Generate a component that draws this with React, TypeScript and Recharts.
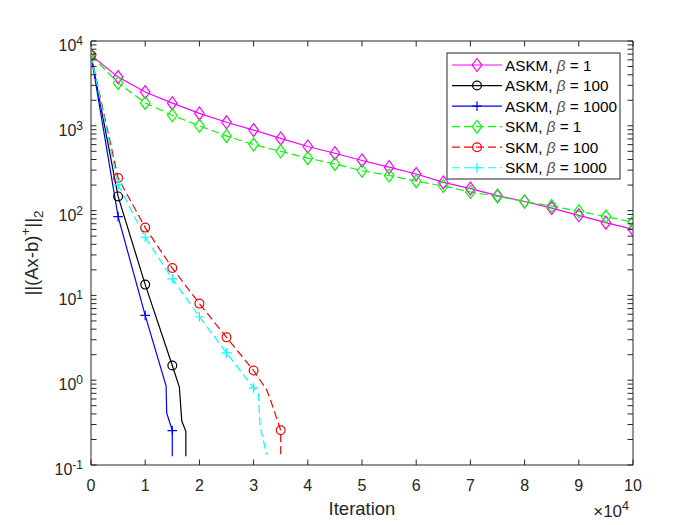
import { Label, Line, LineChart, XAxis, YAxis } from 'recharts';

const FONT = '"Liberation Sans", Arial, Helvetica, sans-serif';
const INK = '#262626';

// axis ticks (iterations, residual decades)
const xTicks = [0, 10000, 20000, 30000, 40000, 50000, 60000, 70000, 80000, 90000, 100000];
const yDecades = [0.1, 1, 10, 100, 1000, 10000];
const yMinorSteps = [2, 3, 4, 5, 6, 7, 8, 9];

// slow runs, logged every 5000 iterations
const checkpoints = [
  0, 5000, 10000, 15000, 20000, 25000, 30000, 35000, 40000, 45000, 50000, 55000, 60000, 65000,
  70000, 75000, 80000, 85000, 90000, 95000, 100000,
];
const askmBeta1 = [
  6800, 3750, 2500, 1850, 1400, 1100, 890, 710, 570, 475, 390, 325, 270, 215, 182, 150, 128, 107,
  88, 72, 60,
];
const skmBeta1 = [
  6800, 3200, 1860, 1330, 1000, 760, 600, 500, 415, 355, 295, 260, 222, 195, 166, 147, 128, 113,
  98, 85, 73,
];

// fast runs, stopped once the residual fell below tolerance
const askmBeta100Iter = [0, 5000, 10000, 15000, 16300, 16750, 17500, 17500];
const askmBeta100Res = [6800, 147, 13.4, 1.49, 0.83, 0.33, 0.25, 0.127];
const askmBeta1000Iter = [0, 5000, 10000, 13850, 13970, 15000, 15000];
const askmBeta1000Res = [6800, 85, 5.8, 0.86, 0.41, 0.255, 0.127];
const skmBeta100Iter = [0, 5000, 10000, 15000, 20000, 25000, 30000, 32400, 33100, 35000, 35000];
const skmBeta100Res = [6800, 242, 63, 21, 8.0, 3.2, 1.3, 0.77, 0.59, 0.257, 0.127];
const skmBeta1000Iter = [0, 5000, 10000, 15000, 20000, 25000, 30000, 30900, 31200, 32400];
const skmBeta1000Res = [6800, 201, 48.5, 15.7, 5.6, 2.1, 0.81, 0.68, 0.286, 0.133];

type Row = { it: number; r: number; mark: boolean };
type Shape = 'diamond' | 'circle' | 'plus';

const toRows = (its: number[], res: number[]): Row[] =>
  its.map((it, i) => ({ it, r: res[i], mark: it % 5000 === 0 && (i === 0 || its[i - 1] !== it) }));

const yTicks = [
  ...yDecades,
  ...yDecades.slice(0, -1).flatMap((d) => yMinorSteps.map((m) => d * m)),
];
const isDecade = (v: number) => Math.abs(Math.log10(v) - Math.round(Math.log10(v))) < 1e-9;

type SeriesDef = {
  name: string;
  beta: string;
  rows: Row[];
  color: string;
  shape: Shape;
  dashed: boolean;
};

const series: SeriesDef[] = [
  { name: 'ASKM', beta: '1', rows: toRows(checkpoints, askmBeta1), color: '#ff00ff', shape: 'diamond', dashed: false },
  { name: 'ASKM', beta: '100', rows: toRows(askmBeta100Iter, askmBeta100Res), color: '#000000', shape: 'circle', dashed: false },
  { name: 'ASKM', beta: '1000', rows: toRows(askmBeta1000Iter, askmBeta1000Res), color: '#0000ff', shape: 'plus', dashed: false },
  { name: 'SKM', beta: '1', rows: toRows(checkpoints, skmBeta1), color: '#00ff00', shape: 'diamond', dashed: true },
  { name: 'SKM', beta: '100', rows: toRows(skmBeta100Iter, skmBeta100Res), color: '#ff0000', shape: 'circle', dashed: true },
  { name: 'SKM', beta: '1000', rows: toRows(skmBeta1000Iter, skmBeta1000Res), color: '#00ffff', shape: 'plus', dashed: true },
];

const LINE_W = 1.2;
const DASH = '8 4';
const TICK_LEN = 5.5;
const TICK_FONT = 16;
const SUP_FONT = 12;
const TITLE_FONT = 18.5;

function Marker({ shape, x, y, color }: { shape: Shape; x: number; y: number; color: string }) {
  if (shape === 'diamond') {
    return (
      <path
        d={`M${x} ${y - 6.5}L${x + 4.8} ${y}L${x} ${y + 6.5}L${x - 4.8} ${y}Z`}
        fill="none"
        stroke={color}
        strokeWidth={LINE_W}
      />
    );
  }
  if (shape === 'circle') {
    return <circle cx={x} cy={y} r={4.4} fill="none" stroke={color} strokeWidth={LINE_W} />;
  }
  return (
    <path
      d={`M${x - 4.8} ${y}H${x + 4.8}M${x} ${y - 4.8}V${y + 4.8}`}
      fill="none"
      stroke={color}
      strokeWidth={LINE_W}
    />
  );
}

const dotFor = (shape: Shape, color: string) => (props: any) => {
  const { cx, cy, index, payload } = props;
  return (
    <g key={`m-${index}`}>
      {payload?.mark ? <Marker shape={shape} x={cx} y={cy} color={color} /> : null}
    </g>
  );
};

function XTick(props: any) {
  const { x, y, payload, side } = props;
  const inward = side === 'top' ? 1 : -1;
  return (
    <g>
      <line x1={x} y1={y} x2={x} y2={y + inward * TICK_LEN} stroke={INK} strokeWidth={1} />
      {side === 'bottom' ? (
        <text x={x} y={y + 26} textAnchor="middle" fill={INK} fontSize={TICK_FONT} fontFamily={FONT}>
          {payload.value / 10000}
        </text>
      ) : null}
    </g>
  );
}

function YTick(props: any) {
  const { x, y, payload, side } = props;
  const inward = side === 'left' ? 1 : -1;
  const major = isDecade(payload.value);
  const exp = Math.round(Math.log10(payload.value));
  return (
    <g>
      <line x1={x} y1={y} x2={x + inward * TICK_LEN} y2={y} stroke={INK} strokeWidth={1} />
      {side === 'left' && major ? (
        <text x={x - 8} y={y + 10} textAnchor="end" fill={INK} fontSize={TICK_FONT} fontFamily={FONT}>
          10
          <tspan dy={-6} fontSize={SUP_FONT}>
            {exp}
          </tspan>
        </text>
      ) : null}
    </g>
  );
}

function YTitle(props: any) {
  const vb = props.viewBox ?? { x: 31, y: 41, width: 60, height: 424 };
  const cx = 38;
  const cy = vb.y + vb.height / 2;
  return (
    <text
      transform={`translate(${cx},${cy}) rotate(-90)`}
      textAnchor="middle"
      fill={INK}
      fontSize={TITLE_FONT}
      fontFamily={FONT}
    >
      ||(Ax-b)
      <tspan dy={-8} fontSize={13.5}>
        +
      </tspan>
      <tspan dy={8}>||</tspan>
      <tspan dy={5} fontSize={13.5}>
        2
      </tspan>
    </text>
  );
}

function XTitle(props: any) {
  const vb = props.viewBox ?? { x: 91, y: 465, width: 542, height: 40 };
  return (
    <g>
      <text
        x={vb.x + vb.width / 2}
        y={515}
        textAnchor="middle"
        fill={INK}
        fontSize={TITLE_FONT}
        fontFamily={FONT}
      >
        Iteration
      </text>
      <text x={629} y={517} textAnchor="end" fill={INK} fontSize={17} fontFamily={FONT}>
        ×10
        <tspan dy={-7} fontSize={12.5}>
          4
        </tspan>
      </text>
    </g>
  );
}

function LegendBox() {
  const left = 447;
  const top = 53;
  const rowY = (i: number) => 65 + i * 20.55;
  return (
    <svg
      width={700}
      height={525}
      style={{ position: 'absolute', left: 0, top: 0, pointerEvents: 'none' }}
    >
      <rect x={left} y={top} width={173} height={126} fill="#fff" stroke={INK} strokeWidth={1} />
      {series.map((s, i) => {
        const y = rowY(i);
        return (
          <g key={`${s.name}-${s.beta}`}>
            <line
              x1={452}
              x2={502}
              y1={y}
              y2={y}
              stroke={s.color}
              strokeWidth={LINE_W}
              strokeDasharray={s.dashed ? DASH : undefined}
            />
            <Marker shape={s.shape} x={477} y={y} color={s.color} />
            <text x={505} y={y + 5.5} fill="#000" fontSize={15.3} fontFamily={FONT}>
              {s.name}, <tspan fontStyle="italic" fill="#555">β</tspan> = {s.beta}
            </text>
          </g>
        );
      })}
    </svg>
  );
}

export default function App() {
  return (
    <div
      style={{ position: 'absolute', left: 0, top: 0, width: 700, height: 525, background: '#fff' }}
    >
      <LineChart width={700} height={525} margin={{ top: 31, right: 57, bottom: 20, left: 31 }}>
        <XAxis
          dataKey="it"
          type="number"
          domain={[0, 100000]}
          ticks={xTicks}
          interval={0}
          allowDataOverflow
          height={40}
          tickSize={0}
          tickMargin={0}
          tickLine={false}
          axisLine={{ stroke: INK, strokeWidth: 1 }}
          tick={(p: any) => <XTick {...p} side="bottom" />}
        >
          <Label content={<XTitle />} />
        </XAxis>
        <XAxis
          xAxisId="top"
          orientation="top"
          dataKey="it"
          type="number"
          domain={[0, 100000]}
          ticks={xTicks}
          interval={0}
          allowDataOverflow
          height={10}
          tickSize={0}
          tickMargin={0}
          tickLine={false}
          axisLine={{ stroke: INK, strokeWidth: 1 }}
          tick={(p: any) => <XTick {...p} side="top" />}
        />
        <YAxis
          type="number"
          scale="log"
          domain={[0.1, 10000]}
          ticks={yTicks}
          interval={0}
          allowDataOverflow
          width={60}
          tickSize={0}
          tickMargin={0}
          tickLine={false}
          axisLine={{ stroke: INK, strokeWidth: 1 }}
          tick={(p: any) => <YTick {...p} side="left" />}
        >
          <Label content={<YTitle />} />
        </YAxis>
        <YAxis
          yAxisId="right"
          orientation="right"
          type="number"
          scale="log"
          domain={[0.1, 10000]}
          ticks={yTicks}
          interval={0}
          allowDataOverflow
          width={10}
          tickSize={0}
          tickMargin={0}
          tickLine={false}
          axisLine={{ stroke: INK, strokeWidth: 1 }}
          tick={(p: any) => <YTick {...p} side="right" />}
        />
        {series.map((s) => (
          <Line
            key={`${s.name}-${s.beta}`}
            data={s.rows}
            dataKey="r"
            type="linear"
            stroke={s.color}
            strokeWidth={LINE_W}
            strokeDasharray={s.dashed ? DASH : undefined}
            dot={dotFor(s.shape, s.color)}
            activeDot={false}
            isAnimationActive={false}
          />
        ))}
      </LineChart>
      <LegendBox />
    </div>
  );
}
